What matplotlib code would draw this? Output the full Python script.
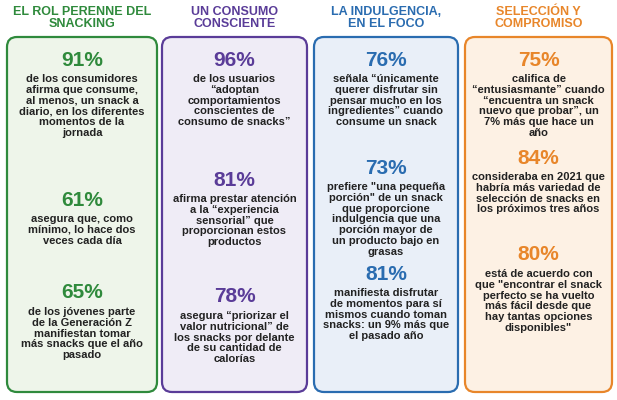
import matplotlib
matplotlib.use("Agg")
import matplotlib.pyplot as plt
from matplotlib.patches import FancyBboxPatch

titles = ["EL ROL PERENNE DEL\nSNACKING", "UN CONSUMO\nCONSCIENTE",
          "LA INDULGENCIA,\nEN EL FOCO", "SELECCIÓN Y\nCOMPROMISO"]
colors = ["#2f8a3c", "#5a3c98", "#2a6cb0", "#e8862a"]
fills = ["#eef5ea", "#efecf6", "#e9eff8", "#fdf1e4"]
stats = [
    ["91%", "61%", "65%"],
    ["96%", "81%", "78%"],
    ["76%", "73%", "81%"],
    ["75%", "84%", "80%"],
]
texts = [
    ["de los consumidores\nafirma que consume,\nal menos, un snack a\ndiario, en los diferentes\nmomentos de la\njornada",
     "asegura que, como\nmínimo, lo hace dos\nveces cada día",
     "de los jóvenes parte\nde la Generación Z\nmanifiestan tomar\nmás snacks que el año\npasado"],
    ["de los usuarios\n“adoptan\ncomportamientos\nconscientes de\nconsumo de snacks”",
     "afirma prestar atención\na la “experiencia\nsensorial” que\nproporcionan estos\nproductos",
     "asegura “priorizar el\nvalor nutricional” de\nlos snacks por delante\nde su cantidad de\ncalorías"],
    ["señala “únicamente\nquerer disfrutar sin\npensar mucho en los\ningredientes” cuando\nconsume un snack",
     "prefiere \"una pequeña\nporción\" de un snack\nque proporcione\nindulgencia que una\nporción mayor de\nun producto bajo en\ngrasas",
     "manifiesta disfrutar\nde momentos para sí\nmismos cuando toman\nsnacks: un 9% más que\nel pasado año"],
    ["califica de\n“entusiasmante” cuando\n“encuentra un snack\nnuevo que probar”, un\n7% más que hace un\naño",
     "consideraba en 2021 que\nhabría más variedad de\nselección de snacks en\nlos próximos tres años",
     "está de acuerdo con\nque \"encontrar el snack\nperfecto se ha vuelto\nmás fácil desde que\nhay tantas opciones\ndisponibles\""],
]
stat_y = [[60, 200, 293], [60, 180, 297], [60, 168, 274], [60, 158, 255]]
col_x = [(7, 157), (162, 307), (314, 458), (465, 612)]

fam = ["Liberation Sans", "DejaVu Sans"]
fig = plt.figure(figsize=(6.17, 4.0), dpi=100)
ax = fig.add_axes([0, 0, 1, 1])
ax.set_xlim(0, 617)
ax.set_ylim(400, 0)
ax.axis("off")

for i in range(4):
    x0, x1 = col_x[i]
    cx = (x0 + x1) / 2
    ax.add_patch(FancyBboxPatch((x0, 37), x1 - x0, 355,
                                boxstyle="round,pad=0,rounding_size=10",
                                fc=fills[i], ec=colors[i], lw=1.6))
    ax.text(cx, 18, titles[i], ha="center", va="center", color=colors[i],
            fontsize=9, fontweight="bold", family=fam, linespacing=1.0)
    for s, t, y in zip(stats[i], texts[i], stat_y[i]):
        ax.text(cx, y, s, ha="center", va="center", color=colors[i],
                fontsize=15, fontweight="bold", family=fam)
        ax.text(cx, y + 14, t, ha="center", va="top", color="#222222",
                fontsize=8, fontweight="bold", family=fam, linespacing=1.1)

fig.savefig("out.png", dpi=100)
